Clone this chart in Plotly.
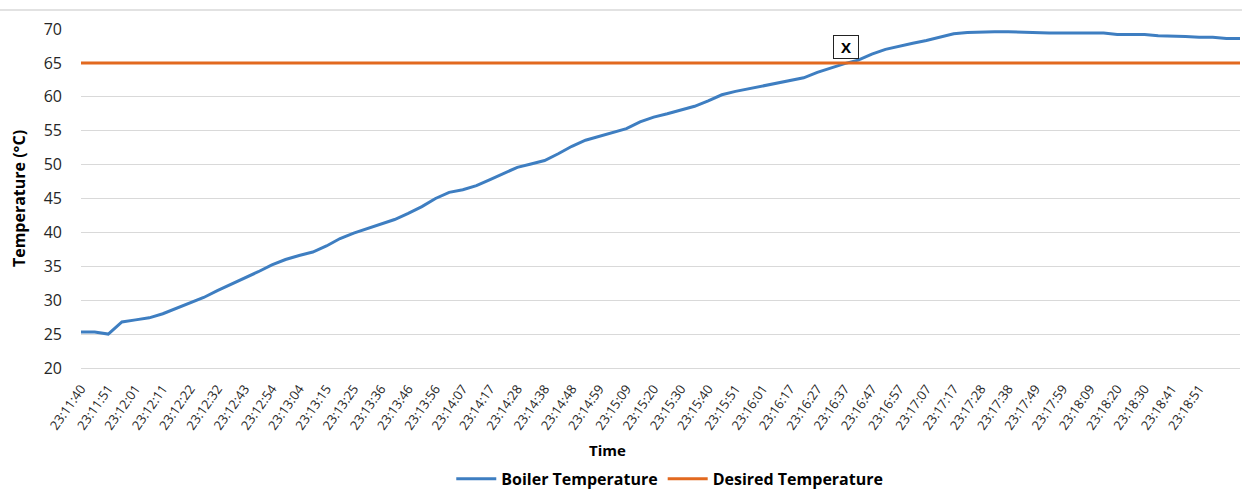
import plotly.graph_objects as go

# Tick labels (one every 10 samples on the category axis)
time_labels = [
    "23:11:40", "23:11:51", "23:12:01", "23:12:11", "23:12:22", "23:12:32", "23:12:43",
    "23:12:54", "23:13:04", "23:13:15", "23:13:25", "23:13:36", "23:13:46", "23:13:56",
    "23:14:07", "23:14:17", "23:14:28", "23:14:38", "23:14:48", "23:14:59", "23:15:09",
    "23:15:20", "23:15:30", "23:15:40", "23:15:51", "23:16:01", "23:16:17", "23:16:27",
    "23:16:37", "23:16:47", "23:16:57", "23:17:07", "23:17:17", "23:17:28", "23:17:38",
    "23:17:49", "23:17:59", "23:18:09", "23:18:20", "23:18:30", "23:18:41", "23:18:51",
]
label_index = [i * 10 for i in range(len(time_labels))]

# Sample index (every 5th sample) and boiler temperature
sample_index = [i * 5 for i in range(86)]
boiler_temp = [
    25.3, 25.3, 25.0, 26.8, 27.1, 27.4, 28.0, 28.8, 29.5, 30.4,
    31.4, 32.3, 33.2, 34.2, 35.2, 36.0, 36.6, 37.1, 38.0, 39.1,
    39.9, 40.6, 41.2, 41.9, 42.8, 43.8, 45.0, 45.9, 46.3, 46.9,
    47.8, 48.7, 49.6, 50.1, 50.6, 51.6, 52.7, 53.6, 54.2, 54.7,
    55.3, 56.3, 57.0, 57.5, 58.0, 58.6, 59.4, 60.3, 60.8, 61.2,
    61.6, 62.0, 62.3, 62.8, 63.6, 64.3, 64.9, 65.4, 66.3, 67.0,
    67.5, 67.9, 68.3, 68.8, 69.3, 69.5, 69.6, 69.6, 69.6, 69.5,
    69.4, 69.4, 69.4, 69.4, 69.4, 69.4, 69.2, 69.2, 69.2, 69.0,
    69.0, 68.9, 68.8, 68.8, 68.6, 68.6,
]
desired_temp = [65] * len(sample_index)

y_ticks = [20, 25, 30, 35, 40, 45, 50, 55, 60, 65, 70]

BLUE = "#3E7EC1"
ORANGE = "#E2691F"
FONT = "Open Sans"
TXT = "#262626"

fig = go.Figure()
fig.add_trace(go.Scatter(
    x=sample_index, y=boiler_temp, mode="lines", name="<b>Boiler Temperature</b>",
    line=dict(color=BLUE, width=3),
))
fig.add_trace(go.Scatter(
    x=sample_index, y=desired_temp, mode="lines", name="<b>Desired Temperature</b>",
    line=dict(color=ORANGE, width=3),
))

fig.add_annotation(
    x=280.6, y=67.35, xref="x", yref="y", text="<b>X</b>", showarrow=False,
    font=dict(family=FONT, size=15, color="black"),
    bordercolor="#222222", borderwidth=1, borderpad=1, bgcolor="white",
    width=22,
)

# x-axis title (placed as in the original, slightly left of centre)
fig.add_annotation(
    x=0.4547, y=-0.242, xref="paper", yref="paper", text="<b>Time</b>",
    showarrow=False, xanchor="center", yanchor="middle",
    font=dict(family=FONT, size=15, color="black"),
)

# light border line at the top of the chart area
fig.add_shape(type="line", xref="paper", yref="paper",
              x0=-0.0699, x1=1.0017, y0=1.056, y1=1.056,
              line=dict(color="#d9d9d9", width=1.5))

fig.update_layout(
    width=1242, height=491,
    margin=dict(l=81, r=2, t=29, b=123, autoexpand=False),
    paper_bgcolor="white", plot_bgcolor="white",
    font=dict(family=FONT, color=TXT),
    showlegend=True,
    legend=dict(orientation="h", x=0.508, y=-0.327, xanchor="center", yanchor="middle",
                font=dict(family=FONT, size=16, color="black"),
                itemwidth=40, tracegroupgap=0),
    xaxis=dict(
        range=[0, 425], tickmode="array", tickvals=label_index, ticktext=time_labels,
        tickangle=-55, tickfont=dict(family=FONT, size=13, color=TXT),
        showgrid=False, zeroline=False, showline=True, linecolor="#d9d9d9", linewidth=1,
        ticks="", ticklabelstandoff=7, automargin=False,
    ),
    yaxis=dict(
        range=[20, 70], tickmode="array", tickvals=y_ticks,
        tickfont=dict(family=FONT, size=16, color=TXT),
        showgrid=True, gridcolor="#d9d9d9", gridwidth=1, zeroline=False,
        ticks="", ticklabelstandoff=18, automargin=False,
        title=dict(text="<b>Temperature (°C)</b>", font=dict(family=FONT, size=16, color="black"),
                   standoff=14),
    ),
)

fig.write_html("out.html")
